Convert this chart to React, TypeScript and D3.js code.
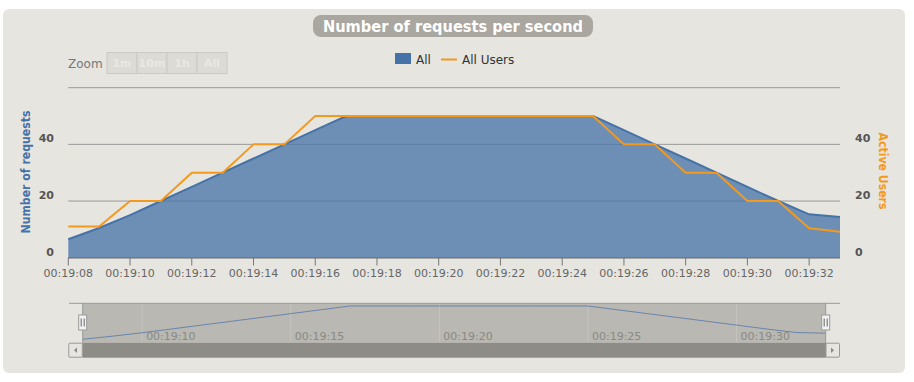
import React from "react";
import * as d3 from "d3";

const times = [
  "00:19:08", "00:19:09", "00:19:10", "00:19:11", "00:19:12", "00:19:13", "00:19:14",
  "00:19:15", "00:19:16", "00:19:17", "00:19:18", "00:19:19", "00:19:20", "00:19:21",
  "00:19:22", "00:19:23", "00:19:24", "00:19:25", "00:19:26", "00:19:27", "00:19:28",
  "00:19:29", "00:19:30", "00:19:31", "00:19:32", "00:19:33",
];
const allRequests = [
  6.5, 10.5, 15, 20, 25, 30, 35, 40, 45, 50, 50, 50, 50, 50, 50, 50, 50, 50,
  45, 40, 35, 30, 25, 20, 15.3, 14.4,
];
const activeUsers = [
  11, 11, 20, 20, 30, 30, 40, 40, 50, 50, 50, 50, 50, 50, 50, 50, 50, 50,
  40, 40, 30, 30, 20, 20, 10.4, 9.2,
];
const yTicks = [0, 20, 40, 60];
const xTickLabels = [
  "00:19:08", "00:19:10", "00:19:12", "00:19:14", "00:19:16", "00:19:18", "00:19:20",
  "00:19:22", "00:19:24", "00:19:26", "00:19:28", "00:19:30", "00:19:32",
];
const navTickLabels = ["00:19:10", "00:19:15", "00:19:20", "00:19:25", "00:19:30"];
const zoomButtons = ["1m", "10m", "1h", "All"];

const parse = (s: string) => {
  const [h, m, sec] = s.split(":").map(Number);
  return new Date(2000, 0, 1, h, m, sec);
};

const FONT = "'DejaVu Sans', Verdana, sans-serif";
const BLUE = "#4572A7";
const ORANGE = "#F39A1E";
const BG = "#E6E5E0";

export default function App() {
  const dates = times.map(parse);
  const data = dates.map((d, i) => ({ d, a: allRequests[i], u: activeUsers[i] }));
  const ext = d3.extent(dates) as [Date, Date];

  const x = d3.scaleTime().domain(ext).range([68.3, 840]);
  const yL = d3.scaleLinear().domain([0, 60]).range([257.7, 87.7]);
  const yR = d3.scaleLinear().domain([0, 60]).range([257.7, 87.7]);
  const nx = d3.scaleTime().domain(ext).range([82.7, 825.7]);
  const ny = d3.scaleLinear().domain([2, 53.5]).range([342.7, 303.3]);

  const area = d3
    .area<any>()
    .x((p) => x(p.d))
    .y0(yL(0))
    .y1((p) => yL(p.a));
  const lineA = d3
    .line<any>()
    .x((p) => x(p.d))
    .y((p) => yL(p.a));
  const lineU = d3
    .line<any>()
    .x((p) => x(p.d))
    .y((p) => yR(p.u));
  const navLine = d3
    .line<any>()
    .x((p) => nx(p.d))
    .y((p) => ny(p.a));

  const plotL = 68.3;
  const plotR = 840;

  return (
    <svg width={914} height={382} style={{ position: "absolute", left: 0, top: 0 }}>
      <rect x={0} y={0} width={914} height={382} fill="#fff" />
      <rect x={3} y={9} width={902} height={364} rx={6} fill={BG} />

      {/* title */}
      <rect x={313} y={15} width={280} height={22} rx={8} fill="#A9A79F" />
      <text
        x={453}
        y={31.5}
        textAnchor="middle"
        fontFamily={FONT}
        fontWeight="bold"
        fontSize={15}
        fill="#fff"
        textLength={260}
        lengthAdjust="spacingAndGlyphs"
      >
        Number of requests per second
      </text>

      {/* zoom buttons */}
      <text x={68} y={67.5} fontFamily={FONT} fontSize={12} fill="#777">
        Zoom
      </text>
      {zoomButtons.map((b, i) => (
        <g key={b}>
          <rect x={107 + i * 30} y={52.5} width={30} height={21} fill="#DCDBD6" stroke="#CCCAC5" />
          <text
            x={122 + i * 30}
            y={67}
            textAnchor="middle"
            fontFamily={FONT}
            fontWeight="bold"
            fontSize={11}
            fill="#E9E8E4"
          >
            {b}
          </text>
        </g>
      ))}

      {/* legend */}
      <rect x={395} y={53} width={16} height={11} fill={BLUE} />
      <text x={416} y={63.5} fontFamily={FONT} fontSize={12} fill="#333">
        All
      </text>
      <line x1={441} x2={457} y1={59.5} y2={59.5} stroke={ORANGE} strokeWidth={2} />
      <text x={462} y={63.5} fontFamily={FONT} fontSize={12} fill="#333">
        All Users
      </text>

      {/* grid */}
      {yTicks.map((t) => (
        <line key={t} x1={plotL} x2={plotR} y1={yL(t)} y2={yL(t)} stroke="#999" strokeWidth={1} />
      ))}

      {/* area */}
      <path d={area(data) || ""} fill={BLUE} fillOpacity={0.75} />
      <path d={lineA(data) || ""} fill="none" stroke={BLUE} strokeWidth={2} />
      <path d={lineU(data) || ""} fill="none" stroke={ORANGE} strokeWidth={2} strokeLinejoin="round" />

      {/* x axis */}
      <line x1={plotL} x2={plotR} y1={257.7} y2={257.7} stroke="#777" strokeWidth={1.5} />
      {xTickLabels.map((l) => {
        const px = x(parse(l));
        return (
          <g key={l}>
            <line x1={px} x2={px} y1={257.7} y2={265.5} stroke="#777" strokeWidth={1} />
            <text x={px} y={276.5} textAnchor="middle" fontFamily={FONT} fontSize={11} fill="#666">
              {l}
            </text>
          </g>
        );
      })}

      {/* y axes labels */}
      {yTicks.slice(0, 3).map((t) => (
        <g key={t}>
          <text x={54} y={yL(t) - 2} textAnchor="end" fontFamily={FONT} fontWeight="bold" fontSize={11} fill="#555">
            {t}
          </text>
          <text x={855} y={yR(t) - 2} textAnchor="start" fontFamily={FONT} fontWeight="bold" fontSize={11} fill="#555">
            {t}
          </text>
        </g>
      ))}
      <text
        transform="translate(30,172) rotate(-90)"
        textAnchor="middle"
        fontFamily={FONT}
        fontWeight="bold"
        fontSize={12}
        fill={BLUE}
        textLength={123}
        lengthAdjust="spacingAndGlyphs"
      >
        Number of requests
      </text>
      <text
        transform="translate(879,171) rotate(90)"
        textAnchor="middle"
        fontFamily={FONT}
        fontWeight="bold"
        fontSize={12}
        fill={ORANGE}
        textLength={77}
        lengthAdjust="spacingAndGlyphs"
      >
        Active Users
      </text>

      {/* navigator */}
      <rect x={82.7} y={303.3} width={825.7 - 82.7} height={342.7 - 303.3} fill="#B9B8B2" />
      {navTickLabels.map((l) => {
        const px = nx(parse(l));
        return (
          <g key={l}>
            <line x1={px} x2={px} y1={303.3} y2={342.7} stroke="#C6C5C0" strokeWidth={1} />
            <text x={px + 4} y={339.5} fontFamily={FONT} fontSize={11} fill="#8A8984">
              {l}
            </text>
          </g>
        );
      })}
      <path d={navLine(data) || ""} fill="none" stroke="#6A85AD" strokeWidth={1} />
      <line x1={69} x2={840} y1={303.3} y2={303.3} stroke="#999" strokeWidth={1} />
      <line x1={82.7} x2={82.7} y1={303.3} y2={342.7} stroke="#999" strokeWidth={1} />
      <line x1={825.7} x2={825.7} y1={303.3} y2={342.7} stroke="#999" strokeWidth={1} />
      {[82.7, 825.7].map((hx) => (
        <g key={hx}>
          <rect x={hx - 4} y={315} width={8} height={15} fill="#F2F2F2" stroke="#999" strokeWidth={1} />
          <line x1={hx - 1.5} x2={hx - 1.5} y1={318.5} y2={326.5} stroke="#666" strokeWidth={1} />
          <line x1={hx + 1.5} x2={hx + 1.5} y1={318.5} y2={326.5} stroke="#666" strokeWidth={1} />
        </g>
      ))}

      {/* scrollbar */}
      <rect x={82.3} y={342.7} width={826 - 82.3} height={15} fill="#8E8C87" />
      <rect x={68.8} y={343.2} width={13.5} height={14} fill={BG} stroke="#999" strokeWidth={1} rx={1} />
      <rect x={826} y={343.2} width={13.5} height={14} fill={BG} stroke="#999" strokeWidth={1} rx={1} />
      <path d="M74 350.2 L77 347.5 L77 353 Z" fill="#888" />
      <path d="M834 350.2 L831 347.5 L831 353 Z" fill="#888" />
    </svg>
  );
}
